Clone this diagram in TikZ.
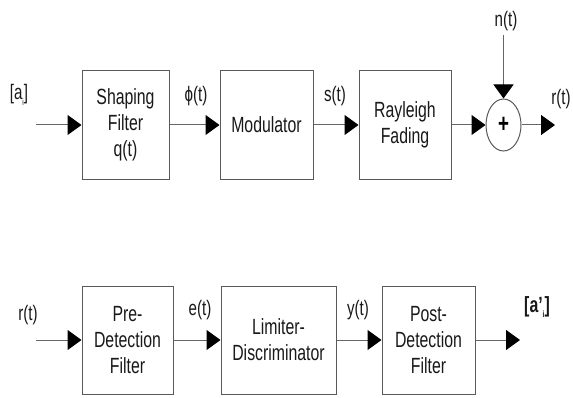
\documentclass[tikz,border=0pt]{standalone}
\usepackage{fontspec}
\setmainfont[FakeStretch=0.72]{Liberation Sans}
\usetikzlibrary{arrows.meta,shapes.geometric}
\begin{document}
\begin{tikzpicture}[x=1pt,y=-1pt,
  blk/.style={draw=black!65,line width=1pt,rectangle,inner sep=0pt,align=center,
     font=\fontsize{22}{26}\selectfont,text=black!90},
  lbl/.style={font=\fontsize{21}{24}\selectfont,text=black!90,inner sep=0pt},
  arr/.style={draw=black!60,line width=1pt,-{Triangle[length=14pt,width=20pt,color=black,fill=black]}}]
\useasboundingbox (0,0) rectangle (573,398);
\fill[white] (0,0) rectangle (573,398);
% top row
\node[blk,minimum width=87pt,minimum height=109pt] (sf) at (125.5,125) {Shaping\\Filter\\q(t)};
\node[blk,minimum width=93pt,minimum height=109pt] (mod) at (266.5,125) {Modulator};
\node[blk,minimum width=92pt,minimum height=109pt] (ray) at (405,125) {Rayleigh\\Fading};
\node[draw=black!65,line width=1pt,ellipse,minimum width=35pt,minimum height=52pt,inner sep=0pt,
   font=\fontsize{26}{26}\selectfont\bfseries] (sum) at (503.5,125) {+};
\coordinate (in1) at (36,125);
\coordinate (ntop) at (503.5,35);
\coordinate (out1) at (555,125);
\node[lbl] (ai) at (19,95) {[a\raisebox{-0.5ex}{\fontsize{9}{9}\selectfont i}]};
\node[lbl] (phi) at (196,96) {ϕ(t)};
\node[lbl] (st) at (335,96) {s(t)};
\node[lbl] (nt) at (506,21) {n(t)};
\node[lbl] (rt1) at (561,99) {r(t)};
\draw[arr] (in1) -- (sf.west);
\draw[arr] (sf.east) -- (mod.west);
\draw[arr] (mod.east) -- (ray.west);
\draw[arr] (ray.east) -- (sum.west);
\draw[arr] (ntop) -- (sum.north);
\draw[arr] (sum.east) -- (out1);
% bottom row
\node[blk,minimum width=91pt,minimum height=108pt] (pre) at (127.5,340) {Pre-\\Detection\\Filter};
\node[blk,minimum width=115pt,minimum height=108pt] (lim) at (278.5,340) {Limiter-\\Discriminator};
\node[blk,minimum width=93pt,minimum height=108pt] (post) at (428.5,340) {Post-\\Detection\\Filter};
\coordinate (in2) at (36,340);
\coordinate (out2) at (520,340);
\node[lbl] (rt2) at (28,315) {r(t)};
\node[lbl] (et) at (200,310) {e(t)};
\node[lbl] (yt) at (358,310) {y(t)};
\node[lbl,font=\fontsize{22}{24}\selectfont\bfseries] (ap) at (537,307) {[a’\raisebox{-0.5ex}{\fontsize{9}{9}\selectfont i}]};
\draw[arr] (in2) -- (pre.west);
\draw[arr] (pre.east) -- (lim.west);
\draw[arr] (lim.east) -- (post.west);
\draw[arr] (post.east) -- (out2);
\end{tikzpicture}
\end{document}
